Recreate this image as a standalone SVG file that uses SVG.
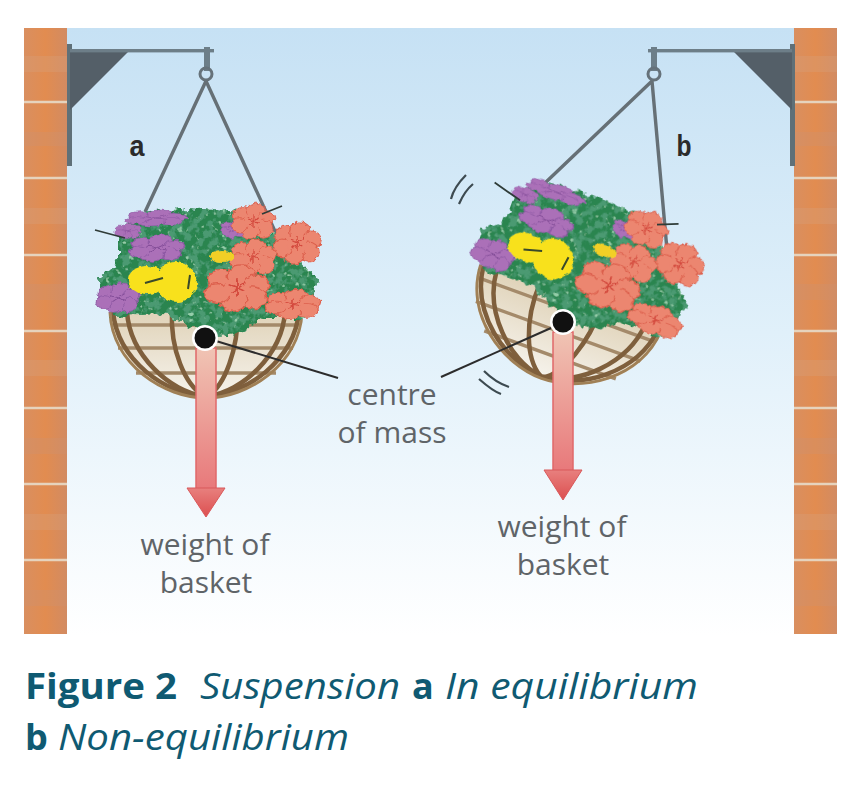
<svg xmlns="http://www.w3.org/2000/svg" xmlns:xlink="http://www.w3.org/1999/xlink" width="860" height="798" viewBox="0 0 860 798">
<style>
.lbl{font-family:"Open Sans","Noto Sans",sans-serif;font-size:30px;fill:#5f6468}
.cap{font-family:"Open Sans","Noto Sans",sans-serif;font-size:36px;fill:#0f5a72}
.capb{font-weight:700}
.capi{font-style:italic}
.tag{font-family:"Liberation Sans",sans-serif;font-weight:700;font-size:29px;fill:#2b2b2b}
.rope{stroke:#667076;stroke-width:3.4;fill:none}
.lead{stroke:#2c2c2c;stroke-width:2;fill:none}
.mot{stroke:#3d4a50;stroke-width:2.2;fill:none}
.rib{stroke:#7f5f3c;stroke-width:4.5;fill:none}
.ribd{stroke:#a08056;stroke-width:3;fill:none}
.band{stroke:#a48a6a;stroke-width:3.4;fill:none}
.twig{stroke:#2f3c38;stroke-width:1.8;fill:none}
.mort{stroke:#e6d3bd;stroke-width:2.6}
.pr{fill:#ec8670;stroke:#dc5f4c;stroke-width:1}
.pp{fill:#ab70b8;stroke:#8f5aa5;stroke-width:1}
</style>
<defs>
<linearGradient id="sky" x1="0" y1="0" x2="0" y2="1"><stop offset="0" stop-color="#c6e1f4"/><stop offset=".5" stop-color="#e0f0fa"/><stop offset="1" stop-color="#ffffff"/></linearGradient>
<linearGradient id="brick" x1="0" y1="0" x2="1" y2="0"><stop offset="0" stop-color="#d98f60"/><stop offset=".5" stop-color="#e28c50"/><stop offset="1" stop-color="#d28b62"/></linearGradient>
<linearGradient id="liner" x1="0" y1="0" x2="0" y2="1"><stop offset="0" stop-color="#e0d3b9"/><stop offset="1" stop-color="#f6f3ec"/></linearGradient>
<linearGradient id="shaft" x1="0" y1="0" x2="0" y2="1"><stop offset="0" stop-color="#f0c4b4"/><stop offset="1" stop-color="#e8787a"/></linearGradient>
<linearGradient id="head" x1="0" y1="0" x2="0" y2="1"><stop offset="0" stop-color="#e8807e"/><stop offset="1" stop-color="#dc4f50"/></linearGradient>
<filter id="leafy" x="-10%" y="-10%" width="120%" height="120%">
<feTurbulence type="fractalNoise" baseFrequency=".14" numOctaves="2" seed="4" result="n"/>
<feDisplacementMap in="SourceGraphic" in2="n" scale="13" xChannelSelector="R" yChannelSelector="G" result="d"/>
<feTurbulence type="fractalNoise" baseFrequency=".13" numOctaves="3" seed="9" result="t"/>
<feColorMatrix in="t" type="matrix" values="0 0 0 0 .07  0 0 0 0 .32  0 0 0 0 .17  6 0 0 0 -2.7" result="dark"/>
<feComposite in="dark" in2="d" operator="in" result="dk"/>
<feTurbulence type="fractalNoise" baseFrequency=".18" numOctaves="2" seed="21" result="t2"/>
<feColorMatrix in="t2" type="matrix" values="0 0 0 0 .30  0 0 0 0 .62  0 0 0 0 .40  0 7 0 0 -4.6" result="light"/>
<feComposite in="light" in2="d" operator="in" result="lt"/>
<feMerge result="m"><feMergeNode in="d"/><feMergeNode in="dk"/><feMergeNode in="lt"/></feMerge>
<feGaussianBlur in="m" stdDeviation=".7"/>
</filter>
<filter id="rough" x="-10%" y="-10%" width="120%" height="120%"><feTurbulence type="fractalNoise" baseFrequency=".2" numOctaves="2" seed="7"/><feDisplacementMap in="SourceGraphic" scale="5" xChannelSelector="R" yChannelSelector="G"/><feGaussianBlur stdDeviation=".5"/></filter>
<g id="cr"><circle class="pr" cx="-11" cy="-7" r="10"/><circle class="pr" cx="3" cy="-11" r="10"/><circle class="pr" cx="14" cy="-3" r="9"/><circle class="pr" cx="11" cy="9" r="10"/><circle class="pr" cx="-3" cy="11" r="10"/><circle class="pr" cx="-14" cy="5" r="9"/><circle cx="0" cy="0" r="9" fill="#ec8670"/><path d="M-6 -3L6 3M6 -5L-4 5M0 -8V7" stroke="#d3483c" stroke-width="1.3" fill="none"/></g>
<g id="cp"><circle class="pp" cx="-11" cy="-6" r="9"/><circle class="pp" cx="3" cy="-9" r="10"/><circle class="pp" cx="14" cy="-3" r="8"/><circle class="pp" cx="10" cy="8" r="9"/><circle class="pp" cx="-4" cy="9" r="10"/><circle class="pp" cx="-14" cy="5" r="8"/><circle cx="0" cy="0" r="8" fill="#ab70b8"/><path d="M-8 -3L8 3M-6 5L6 -5" stroke="#7f4a95" stroke-width="1.2" fill="none"/></g>
<g id="brick-col">
<rect x="0" y="0" width="43" height="606" fill="url(#brick)"/>
<rect x="0" y="28" width="43" height="16" fill="#d8a07c" opacity=".35"/>
<rect x="0" y="104" width="43" height="14" fill="#cf9270" opacity=".35"/>
<rect x="0" y="180" width="43" height="16" fill="#d8a07c" opacity=".35"/>
<rect x="0" y="256" width="43" height="16" fill="#cf9270" opacity=".35"/>
<rect x="0" y="332" width="43" height="16" fill="#d8a07c" opacity=".35"/>
<rect x="0" y="410" width="43" height="16" fill="#cf9270" opacity=".35"/>
<rect x="0" y="486" width="43" height="16" fill="#d8a07c" opacity=".35"/>
<rect x="0" y="562" width="43" height="16" fill="#cf9270" opacity=".35"/>
<path class="mort" d="M0 74H43M0 150H43M0 227H43M0 303H43M0 380H43M0 456H43M0 532H43"/>
</g>
<g id="basket-plant">
<path d="M110 313H302A96 84 0 0 1 206 397A96 84 0 0 1 110 313Z" fill="url(#liner)"/>
<path class="band" d="M112 325H300M118 348H293M136 373H276"/>
<path class="rib" d="M113 312C118 360 165 395 206 396C247 395 294 360 299 312"/>
<path class="rib" d="M127 312C130 355 170 392 204 396M285 312C282 355 242 392 208 396"/>
<path class="rib" d="M172 310C170 350 185 385 204 396M238 310C238 350 225 385 208 396"/>
<path class="ribd" d="M110 312C112 365 165 398 206 398C247 398 300 365 302 312"/>
<path d="M98 278L118 262L118 232L145 213L190 208L237 212L270 232L300 262L318 278L310 318L262 318L240 334L215 336L190 326L165 314L112 316Z" fill="#2a8550" filter="url(#leafy)"/>
<g filter="url(#rough)">
<use href="#cp" xlink:href="#cp" transform="translate(156 218) scale(1.4 .42)"/>
<use href="#cp" xlink:href="#cp" transform="translate(128 231) scale(.6 .4)"/>
<use href="#cp" xlink:href="#cp" transform="translate(157 248) scale(1.25 .7)"/>
<use href="#cp" xlink:href="#cp" transform="translate(118 298) scale(1 .8)"/>
<use href="#cp" xlink:href="#cp" transform="translate(234 229) scale(.6 .5)"/>
<use href="#cr" xlink:href="#cr" transform="translate(253 221) scale(.95 .85)"/>
<use href="#cr" xlink:href="#cr" transform="translate(297 243) scale(1.05 1)"/>
<use href="#cr" xlink:href="#cr" transform="translate(253 257) scale(1 .85)"/>
<use href="#cr" xlink:href="#cr" transform="translate(237 288) scale(1.4 1.1)"/>
<use href="#cr" xlink:href="#cr" transform="translate(293 304) scale(1.2 .7)"/>
<ellipse cx="147" cy="280" rx="19" ry="14" fill="#f8e11e"/>
<ellipse cx="177" cy="283" rx="20" ry="19" fill="#f8e11e"/>
<ellipse cx="175" cy="270" rx="14" ry="8" fill="#f8e11e"/>
<ellipse cx="222" cy="257" rx="12" ry="6" fill="#f2cf25"/>
</g>
<path d="M145 283l18-5M190 275l-2 14" stroke="#3a4a2a" stroke-width="2" fill="none"/>
<path class="twig" d="M95 230L125 238M262 214L282 206"/>
</g>
</defs>

<rect id="sky-back" x="67" y="28" width="728" height="608" fill="url(#sky)"/>

<g id="wall-left"><use xlink:href="#brick-col" href="#brick-col" transform="translate(24 28)"/></g>
<g id="wall-right"><use xlink:href="#brick-col" href="#brick-col" transform="translate(794 28)"/></g>

<g id="bracket-a">
<rect x="67" y="44" width="5" height="122" fill="#5f7078"/>
<path d="M70 50H130L70 110Z" fill="#545f68"/>
<rect x="70" y="49" width="144" height="3.4" fill="#6d7e88"/>
<rect x="204" y="47" width="6" height="24" fill="#6d7e88"/>
<circle cx="206" cy="74" r="6" fill="none" stroke="#66727a" stroke-width="3"/>
</g>
<g id="bracket-b">
<rect x="790" y="44" width="5" height="122" fill="#5f7078"/>
<path d="M792 50H732L792 110Z" fill="#545f68"/>
<rect x="648" y="49" width="144" height="3.4" fill="#6d7e88"/>
<rect x="651" y="47" width="6" height="24" fill="#6d7e88"/>
<circle cx="654" cy="74" r="6" fill="none" stroke="#66727a" stroke-width="3"/>
</g>

<g id="connectors">
<path class="rope" d="M206 81L145 212M206 81L279 240"/>
<path class="rope" d="M652 81L545 183M652 81L667 250"/>
</g>

<g id="basket-a"><use xlink:href="#basket-plant" href="#basket-plant"/></g>
<g id="basket-b"><use xlink:href="#basket-plant" href="#basket-plant" transform="translate(562 322) rotate(20) translate(-206 -338)"/></g>

<g id="connectors-lead">
<path class="lead" d="M216 341L338 378"/>
<path class="lead" d="M551 328L441 377"/>
<path class="mot" d="M466 175C459 182 453 191 451 199M473 184C467 189 462 197 459 204"/>
<path class="mot" d="M484 371C491 378 500 384 509 387M479 379C487 386 495 392 501 394"/>
</g>

<g id="force-a">
<rect x="196" y="348" width="20" height="142" fill="url(#shaft)" stroke="#e0686a" stroke-width="1.5"/>
<path d="M187 488H225L206 517Z" fill="url(#head)" stroke="#d9585a" stroke-width="1"/>
<circle cx="205" cy="338" r="13" fill="#fff"/>
<circle cx="205" cy="338" r="10.5" fill="#111"/>
</g>
<g id="force-b">
<rect x="553" y="332" width="20" height="140" fill="url(#shaft)" stroke="#e0686a" stroke-width="1.5"/>
<path d="M544 470H582L563 500Z" fill="url(#head)" stroke="#d9585a" stroke-width="1"/>
<circle cx="563" cy="322" r="13" fill="#fff"/>
<circle cx="563" cy="322" r="10.5" fill="#111"/>
</g>

<g id="labels">
<text class="tag" x="137" y="156" text-anchor="middle" textLength="15" lengthAdjust="spacingAndGlyphs">a</text>
<text class="tag" x="684" y="156" text-anchor="middle" textLength="15" lengthAdjust="spacingAndGlyphs">b</text>
<text class="lbl" x="392" y="405" text-anchor="middle">centre</text>
<text class="lbl" x="392" y="443" text-anchor="middle">of mass</text>
<text class="lbl" x="205" y="555" text-anchor="middle">weight of</text>
<text class="lbl" x="206" y="593" text-anchor="middle">basket</text>
<text class="lbl" x="562" y="537" text-anchor="middle">weight of</text>
<text class="lbl" x="563" y="575" text-anchor="middle">basket</text>
</g>
<g id="caption">
<text class="cap capb" x="25" y="699" textLength="152" lengthAdjust="spacingAndGlyphs">Figure 2</text>
<text class="cap capi" x="200" y="699" textLength="200" lengthAdjust="spacingAndGlyphs">Suspension</text>
<text class="cap capb" x="412" y="699">a</text>
<text class="cap capi" x="445" y="699" textLength="253" lengthAdjust="spacingAndGlyphs">In equilibrium</text>
<text class="cap capb" x="25" y="750">b</text>
<text class="cap capi" x="58" y="750" textLength="291" lengthAdjust="spacingAndGlyphs">Non-equilibrium</text>
</g>
</svg>
